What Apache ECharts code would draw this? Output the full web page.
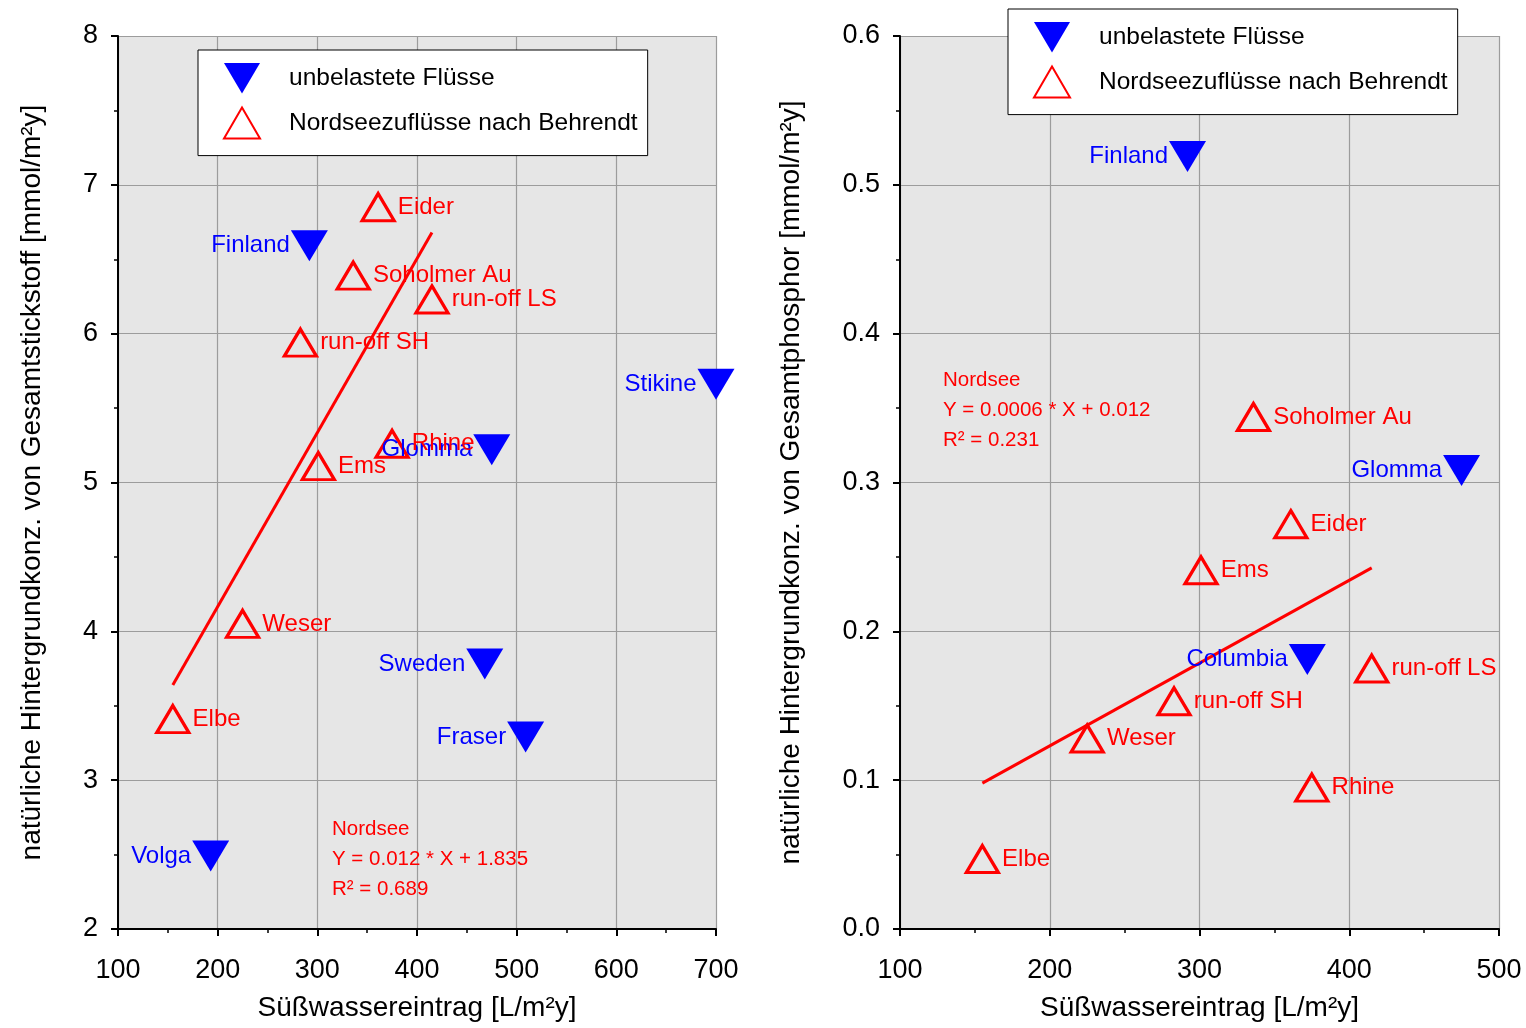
<!DOCTYPE html>
<html><head><meta charset="utf-8">
<script src="https://cdn.jsdelivr.net/npm/echarts@6/dist/echarts.min.js"></script>
<style>html,body{margin:0;padding:0;background:#fff}#c{width:1526px;height:1028px}</style>
</head><body><div id="c"></div>
<script>
// ---- Left chart: Gesamtstickstoff ----
const nBlueNames = ['Finland', 'Stikine', 'Glomma', 'Sweden', 'Fraser', 'Volga'];
const nBlueX = [292, 700, 475, 468, 509, 193];
const nBlueY = [6.59, 5.66, 5.22, 3.78, 3.29, 2.49];
const nRedNames = ['Eider', 'Soholmer Au', 'run-off LS', 'run-off SH', 'Rhine', 'Ems', 'Weser', 'Elbe'];
const nRedX = [361, 336, 415, 283, 375, 301, 225, 155];
const nRedY = [6.85, 6.39, 6.23, 5.94, 5.26, 5.11, 4.05, 3.41];
const nFitX = [155, 415];
const nFitY = [3.64, 6.68];
const nText = ['Nordsee', 'Y = 0.012 * X + 1.835', 'R² = 0.689'];

// ---- Right chart: Gesamtphosphor ----
const pBlueNames = ['Finland', 'Glomma', 'Columbia'];
const pBlueX = [292, 475, 372];
const pBlueY = [0.519, 0.308, 0.181];
const pRedNames = ['Soholmer Au', 'Eider', 'Ems', 'run-off LS', 'run-off SH', 'Weser', 'Rhine', 'Elbe'];
const pRedX = [336, 361, 301, 415, 283, 225, 375, 155];
const pRedY = [0.344, 0.272, 0.241, 0.175, 0.153, 0.128, 0.095, 0.047];
const pFitX = [155, 415];
const pFitY = [0.098, 0.2426];
const pText = ['Nordsee', 'Y = 0.0006 * X + 0.012', 'R² = 0.231'];

const xTitle = 'Süßwassereintrag [L/m²y]';
const yTitleN = 'natürliche Hintergrundkonz. von Gesamtstickstoff [mmol/m²y]';
const yTitleP = 'natürliche Hintergrundkonz. von Gesamtphosphor [mmol/m²y]';
const seriesBlue = 'unbelastete Flüsse';
const seriesRed = 'Nordseezuflüsse nach Behrendt';

const FONT = '"Liberation Sans", Arial, sans-serif';
const INV = 'path://M0,0L20,0L10,17Z';

function pts(names, xs, ys) { return names.map((n, i) => ({ name: n, value: [xs[i], ys[i]] })); }
function line(xs, ys) { return xs.map((x, i) => [x, ys[i]]); }

function xAxis(idx, max) {
  return {
    gridIndex: idx, type: 'value', min: 100, max: max, interval: 100,
    name: xTitle, nameLocation: 'middle', nameGap: 65,
    nameTextStyle: { fontFamily: FONT, fontSize: 28, color: '#000' },
    axisLine: { show: true, onZero: false, lineStyle: { color: '#000', width: 2 } },
    axisTick: { show: true, inside: false, length: 7, lineStyle: { color: '#000', width: 2 } },
    minorTick: { show: true, splitNumber: 2, length: 4, lineStyle: { color: '#000', width: 1.5 } },
    axisLabel: { fontFamily: FONT, fontSize: 27, color: '#000', margin: 28 },
    splitLine: { show: true, lineStyle: { color: '#9c9c9c', width: 1.2 } }
  };
}
function yAxis(idx, min, max, interval, name, gap, fmt) {
  return {
    gridIndex: idx, type: 'value', min: min, max: max, interval: interval,
    name: name, nameLocation: 'middle', nameGap: gap, nameRotate: 90,
    nameTextStyle: { fontFamily: FONT, fontSize: 28, color: '#000' },
    axisLine: { show: true, onZero: false, lineStyle: { color: '#000', width: 2 } },
    axisTick: { show: true, inside: false, length: 7, lineStyle: { color: '#000', width: 2 } },
    minorTick: { show: true, splitNumber: 2, length: 4, lineStyle: { color: '#000', width: 1.5 } },
    axisLabel: { fontFamily: FONT, fontSize: 27, color: '#000', margin: 20, formatter: fmt },
    splitLine: { show: true, lineStyle: { color: '#9c9c9c', width: 1.2 } }
  };
}
function blue(idx, data) {
  return {
    name: seriesBlue, type: 'scatter', xAxisIndex: idx, yAxisIndex: idx, clip: false,
    symbol: INV, symbolSize: [37, 31], itemStyle: { color: '#0000ff', opacity: 1 },
    label: { show: true, position: 'left', distance: 1, formatter: '{b}', color: '#0000ff', fontFamily: FONT, fontSize: 24 },
    emphasis: { disabled: true }, data: data, z: 5
  };
}
function red(idx, data) {
  return {
    name: seriesRed, type: 'scatter', xAxisIndex: idx, yAxisIndex: idx, clip: false,
    symbol: 'triangle', symbolSize: [32, 27],
    itemStyle: { color: 'rgba(255,255,255,0)', borderColor: '#ff0000', borderWidth: 3.2, opacity: 1 },
    label: { show: true, position: 'right', distance: 2, formatter: '{b}', color: '#ff0000', fontFamily: FONT, fontSize: 24 },
    emphasis: { disabled: true }, data: data, z: 5
  };
}
function fit(idx, data) {
  return {
    type: 'line', xAxisIndex: idx, yAxisIndex: idx, data: data, symbol: 'none',
    lineStyle: { color: '#ff0000', width: 3 }, silent: true, z: 4
  };
}
function legend(left, top) {
  return {
    left: left, top: top, orient: 'vertical',
    backgroundColor: '#fff', borderColor: '#000', borderWidth: 1,
    padding: [13, 10, 16, 25], itemWidth: 36, itemHeight: 31, itemGap: 13,
    selectedMode: false,
    data: [seriesBlue, seriesRed],
    textStyle: { fontFamily: FONT, fontSize: 24.5, color: '#000', padding: [0, 0, 0, 24], width: 344 }
  };
}
function note(left, top, lines) {
  return {
    type: 'text', left: left, top: top, z: 10,
    style: { text: lines.join('\n'), fill: '#ff0000', font: '20.5px ' + FONT, lineHeight: 30 }
  };
}

const chart = echarts.init(document.getElementById('c'), null, { renderer: 'canvas' });
chart.setOption({
  animation: false,
  grid: [
    { left: 118, top: 36, width: 598, height: 893, show: true, backgroundColor: '#e6e6e6', borderWidth: 0 },
    { left: 900, top: 36, width: 599, height: 893, show: true, backgroundColor: '#e6e6e6', borderWidth: 0 }
  ],
  legend: [legend(198, 50), legend(1008, 9)],
  xAxis: [xAxis(0, 700), xAxis(1, 500)],
  yAxis: [
    yAxis(0, 2, 8, 1, yTitleN, 72, v => String(v)),
    yAxis(1, 0, 0.6, 0.1, yTitleP, 95, v => v.toFixed(1))
  ],
  series: [
    fit(0, line(nFitX, nFitY)),
    blue(0, pts(nBlueNames, nBlueX, nBlueY)),
    red(0, pts(nRedNames, nRedX, nRedY)),
    fit(1, line(pFitX, pFitY)),
    blue(1, pts(pBlueNames, pBlueX, pBlueY)),
    red(1, pts(pRedNames, pRedX, pRedY))
  ],
  graphic: [note(332, 814, nText), note(943, 365, pText)]
});
</script></body></html>
